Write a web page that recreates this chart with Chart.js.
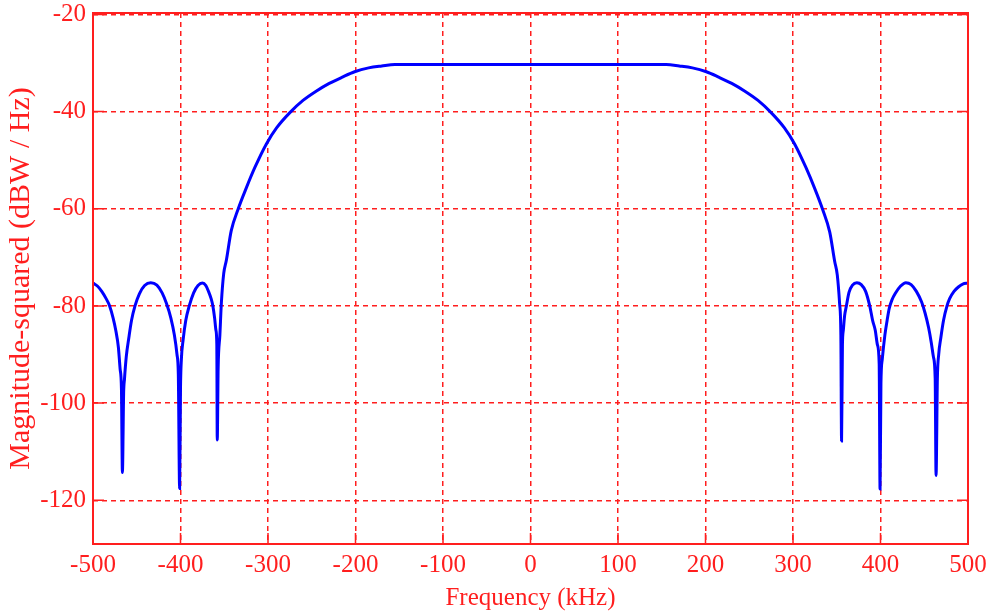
<!DOCTYPE html>
<html>
<head>
<meta charset="utf-8">
<script src="https://cdn.jsdelivr.net/npm/chart.js@4.4.1/dist/chart.umd.min.js"></script>
<style>
  body { margin: 0; background: #fff; }
  canvas { display: block; }
</style>
</head>
<body>
<canvas id="spectrumChart" width="994" height="615"></canvas>
<script>
// frequency in kHz
const freqKHz = [
  -500, -495, -490, -485, -481, -477, -474, -471, -469, -467.5, -466.4,
  -465, -464, -462, -459, -456, -452, -447, -441, -434, -427, -421, -416, -411, -407, -404, -402.5, -401,
  -400, -399, -397, -394, -390, -385, -380, -375, -371, -368, -365, -363, -361, -359.5, -358.5, -358,
  -357, -355, -353.3, -350.6, -347.6, -342, -334, -325, -315, -302, -290, -275, -260, -245, -230, -215, -201, -185, -170, -155,
  0,
  155, 170, 185, 201, 215, 230, 245, 260, 275, 290, 302, 315, 325, 334, 342, 347.6, 350.6, 353.3, 354.7, 355.5,
  356.5, 357.5, 359, 361, 364, 368, 373, 378, 383, 387.7, 391, 394, 396.5, 398.5, 399.5,
  400.5, 402, 405, 408, 410, 413, 417, 423, 429, 435, 441, 447, 451, 455, 458, 460.5, 462.5, 463.5,
  465, 466.5, 469, 472, 476, 479, 484, 489, 494, 500
];
// magnitude-squared in dBW / Hz
const magDb = [
  -75.3, -75.9, -77, -78.5, -80, -82.5, -85, -88.5, -93, -97, -114.3,
  -98, -95, -90.5, -86.5, -83, -80, -77.5, -75.8, -75.2, -75.7, -77.3, -79.5, -82.5, -86, -90, -94, -117.6,
  -97, -91, -87, -83, -80, -77.3, -75.8, -75.3, -75.8, -77, -78.5, -80, -82.5, -85, -88, -107.6,
  -93, -86, -79.4, -73.3, -70.6, -64.5, -60, -55.8, -51.5, -46.7, -43.3, -40.2, -37.7, -35.8, -34.2, -32.9, -31.8, -31, -30.6, -30.3,
  -30.3,
  -30.3, -30.6, -31, -31.8, -32.9, -34.2, -35.8, -37.7, -40.2, -43.3, -46.7, -51.6, -55.9, -60.2, -64.8, -70.8, -73.6, -79.6, -86, -107.8,
  -88, -85, -82, -80, -77.2, -75.7, -75.2, -75.6, -77, -80, -83, -85, -88, -92, -117.7,
  -96, -91, -86, -82.5, -80.5, -78.8, -77.4, -75.9, -75.2, -75.6, -77, -79.2, -81.5, -84.5, -87.5, -90.5, -95, -114.9,
  -95, -90, -86.5, -83, -80, -78.5, -77, -76.1, -75.5, -75.3
];
const xTicks = [-500, -400, -300, -200, -100, 0, 100, 200, 300, 400, 500];
const yTicks = [-120, -100, -80, -60, -40, -20];

const red = 'rgb(255, 30, 30)';

// frame and inward tick marks
const frameTicks = {
  id: 'frameTicks',
  afterDatasetsDraw(chart) {
    const { ctx, chartArea: a, scales: { x, y } } = chart;
    ctx.save();
    ctx.strokeStyle = red;
    ctx.lineWidth = 1.5;
    ctx.setLineDash([]);
    ctx.beginPath();
    xTicks.forEach(v => {
      const px = x.getPixelForValue(v);
      ctx.moveTo(px, a.bottom);
      ctx.lineTo(px, a.bottom - 11);
    });
    yTicks.forEach(v => {
      const py = y.getPixelForValue(v);
      ctx.moveTo(a.left, py);
      ctx.lineTo(a.left + 11, py);
      ctx.moveTo(a.right, py);
      ctx.lineTo(a.right - 11, py);
    });
    ctx.stroke();
    ctx.lineWidth = 2;
    ctx.strokeRect(a.left, a.top, a.right - a.left, a.bottom - a.top);
    ctx.restore();
  }
};

new Chart(document.getElementById('spectrumChart').getContext('2d'), {
  type: 'line',
  data: {
    datasets: [{
      data: freqKHz.map((f, i) => ({ x: f, y: magDb[i] })),
      borderColor: 'rgb(0, 0, 255)',
      borderWidth: 3,
      pointRadius: 0,
      cubicInterpolationMode: 'monotone',
      fill: false
    }]
  },
  options: {
    responsive: false,
    animation: false,
    layout: { padding: { top: 13, right: 26, left: 0, bottom: 0 } },
    plugins: { legend: { display: false }, tooltip: { enabled: false } },
    scales: {
      x: {
        type: 'linear',
        min: -500,
        max: 500,
        afterBuildTicks: s => { s.ticks = xTicks.map(v => ({ value: v })); },
        afterFit: s => { s.height = 71; s.paddingLeft = 0; s.paddingRight = 0; },
        grid: { color: red, lineWidth: 1.5, drawTicks: false },
        border: { display: false, dash: [5, 4] },
        ticks: {
          color: red,
          padding: 6,
          maxRotation: 0,
          font: { family: 'Liberation Serif', size: 25 }
        },
        title: {
          display: true,
          text: 'Frequency (kHz)',
          color: red,
          font: { family: 'Liberation Serif', size: 25 },
          padding: { top: 0, bottom: 2 }
        }
      },
      y: {
        min: -129,
        max: -19.7,
        afterBuildTicks: s => { s.ticks = yTicks.map(v => ({ value: v })); },
        afterFit: s => { s.width = 93; s.paddingTop = 0; s.paddingBottom = 0; },
        grid: { color: red, lineWidth: 1.5, drawTicks: false },
        border: { display: false, dash: [5, 4] },
        ticks: {
          color: red,
          padding: 7,
          font: { family: 'Liberation Serif', size: 25 }
        },
        title: {
          display: true,
          text: 'Magnitude-squared (dBW / Hz)',
          color: red,
          font: { family: 'Liberation Serif', size: 30 },
          padding: { top: 3, bottom: 0 }
        }
      }
    }
  },
  plugins: [frameTicks]
});
</script>
</body>
</html>
